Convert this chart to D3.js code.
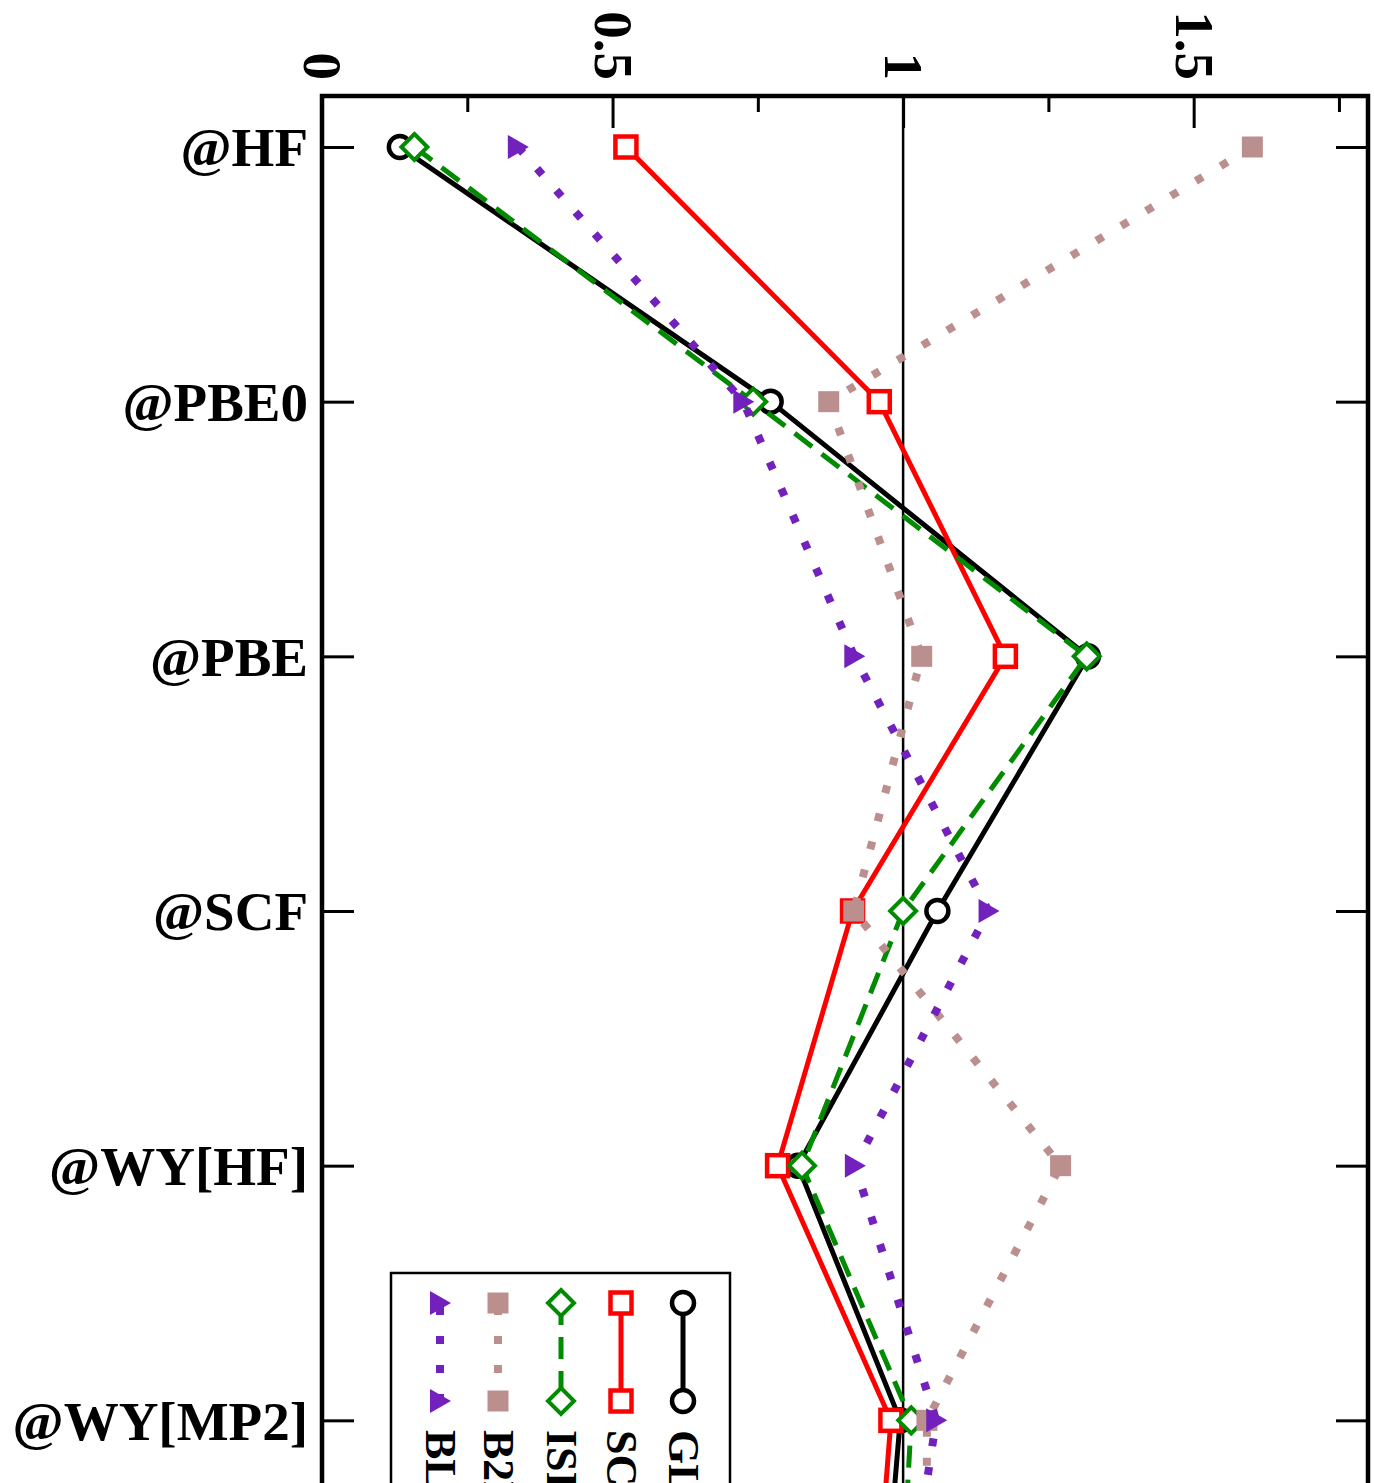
<!DOCTYPE html>
<html lang="en">
<head>
	<meta charset="utf-8">
	<script type="text/javascript" src="https://d3js.org/d3.v7.min.js"></script>
	<style type="text/css">
		body { margin: 0; background: #fff; }
		text { font-family: "Liberation Serif", "Times New Roman", serif; font-weight: bold; }
	</style>
</head>
<body>
<script type="text/javascript">
var categories = ["@HF", "@PBE0", "@PBE", "@SCF", "@WY[HF]", "@WY[MP2]", "@WY[CCSD]"];
var majorTicks = [0, 0.5, 1, 1.5];
var minorTicks = [0.25, 0.75, 1.25, 1.75];
var tickLabels = ["0", "0.5", "1", "1.5"];

var seriesNames = ["GL2", "SCS", "ISI", "B2PLYP", "BLYP"];
var glValues  = [0.134, 0.772, 1.318, 1.059, 0.819, 0.995, 0.958];
var scValues  = [0.523, 0.959, 1.176, 0.913, 0.784, 0.979, 0.945];
var isiValues = [0.159, 0.742, 1.316, 1.000, 0.826, 1.014, 0.990];
var b2Values  = [1.601, 0.872, 1.032, 0.915, 1.271, 1.041, 1.040];
var blValues  = [0.337, 0.725, 0.916, 1.147, 0.917, 1.057, 0.990];

var width = 1374, height = 1483;
var plotLeft = 322, plotRight = 1368, plotTop = 96, plotBottom = 1726;

var svg = d3.select("body")
    .append("svg")
    .attr("width", width)
    .attr("height", height);

var x = d3.scaleLinear().domain([0, 1.8]).range([plotLeft, plotRight]);
var y = d3.scalePoint().domain(categories).range([147, 1675]);

var dotted = "8,21";
var series = [
    {name: seriesNames[0], values: glValues,  color: "#000000", dash: null,    width: 5, symbol: "circle"},
    {name: seriesNames[1], values: scValues,  color: "#ff0000", dash: null,    width: 5, symbol: "square"},
    {name: seriesNames[2], values: isiValues, color: "#008b00", dash: "22,12", width: 5, symbol: "diamond"},
    {name: seriesNames[3], values: b2Values,  color: "#bc8f8f", dash: dotted,  width: 8, symbol: "fsquare"},
    {name: seriesNames[4], values: blValues,  color: "#7221bc", dash: dotted,  width: 8, symbol: "triangle"}
];

// axes: ticks point inward, labels only on top and left
svg.append("g")
    .attr("transform", "translate(0," + plotTop + ")")
    .call(d3.axisTop(x).tickValues(majorTicks).tickSize(-32)
        .tickFormat(function(d, i) { return tickLabels[i]; }))
    .call(function(g) {
        g.select(".domain").remove();
        g.selectAll(".tick line").attr("stroke-width", 3);
        g.selectAll(".tick text")
            .attr("x", null).attr("y", null).attr("dy", null)
            .attr("transform", "translate(0,-16) rotate(90)")
            .attr("text-anchor", "end")
            .attr("dominant-baseline", "central")
            .attr("font-family", null)
            .attr("font-size", 55)
            .attr("fill", "#000");
    });

svg.append("g")
    .attr("transform", "translate(0," + plotTop + ")")
    .call(d3.axisTop(x).tickValues(minorTicks).tickSize(-16).tickFormat(""))
    .call(function(g) {
        g.select(".domain").remove();
        g.selectAll(".tick line").attr("stroke-width", 3);
    });

svg.append("g")
    .attr("transform", "translate(" + plotLeft + ",0)")
    .call(d3.axisLeft(y).tickSize(-32).tickPadding(14))
    .call(function(g) {
        g.select(".domain").remove();
        g.selectAll(".tick line").attr("stroke-width", 3);
        g.selectAll(".tick text")
            .attr("font-family", null)
            .attr("font-size", 55)
            .attr("dy", "0.34em")
            .attr("fill", "#000");
    });

svg.append("g")
    .attr("transform", "translate(" + plotRight + ",0)")
    .call(d3.axisRight(y).tickSize(-32).tickFormat(""))
    .call(function(g) {
        g.select(".domain").remove();
        g.selectAll(".tick line").attr("stroke-width", 3);
    });

// reference line at 1
svg.append("line")
    .attr("x1", x(1)).attr("x2", x(1))
    .attr("y1", plotTop).attr("y2", plotBottom)
    .attr("stroke", "#000")
    .attr("stroke-width", 2.5);

svg.append("rect")
    .attr("x", plotLeft).attr("y", plotTop)
    .attr("width", plotRight - plotLeft).attr("height", plotBottom - plotTop)
    .attr("fill", "none")
    .attr("stroke", "#000")
    .attr("stroke-width", 4.5);

function drawSymbol(g, kind, color) {
    if (kind == "circle") {
        g.append("circle").attr("r", 11)
            .attr("fill", "#fff").attr("stroke", color).attr("stroke-width", 4.5);
    } else if (kind == "square") {
        g.append("rect").attr("x", -10.5).attr("y", -10.5).attr("width", 21).attr("height", 21)
            .attr("fill", "#fff").attr("stroke", color).attr("stroke-width", 4.5);
    } else if (kind == "fsquare") {
        g.append("rect").attr("x", -10.5).attr("y", -10.5).attr("width", 21).attr("height", 21)
            .attr("fill", color);
    } else if (kind == "diamond") {
        g.append("path").attr("d", "M0,-13L13,0L0,13L-13,0Z")
            .attr("fill", "#fff").attr("stroke", color).attr("stroke-width", 4);
    } else if (kind == "triangle") {
        g.append("path").attr("d", "M-10,-12L11,0L-10,12Z")
            .attr("fill", color);
    }
}

var line = d3.line()
    .x(function(d) { return x(d.v); })
    .y(function(d) { return y(d.c); });

series.forEach(function(s) {
    var pts = s.values.map(function(v, i) { return {c: categories[i], v: v}; });
    svg.append("path")
        .datum(pts)
        .attr("d", line)
        .attr("fill", "none")
        .attr("stroke", s.color)
        .attr("stroke-width", s.width)
        .attr("stroke-dasharray", s.dash);

    svg.selectAll(null)
        .data(pts)
        .enter()
        .append("g")
        .attr("transform", function(d) { return "translate(" + x(d.v) + "," + y(d.c) + ")"; })
        .each(function() { drawSymbol(d3.select(this), s.symbol, s.color); });
});

// legend
var legend = svg.append("g");
legend.append("rect")
    .attr("x", 391).attr("y", 1273)
    .attr("width", 339).attr("height", 400)
    .attr("fill", "#fff")
    .attr("stroke", "#000")
    .attr("stroke-width", 2.5);

var legendX = [683, 621, 561, 498, 440];
series.forEach(function(s, i) {
    var lg = legend.append("g").attr("transform", "translate(" + legendX[i] + ",0)");
    lg.append("line")
        .attr("x1", 0).attr("x2", 0)
        .attr("y1", 1303).attr("y2", 1401)
        .attr("stroke", s.color)
        .attr("stroke-width", s.width)
        .attr("stroke-dasharray", s.dash)
        .attr("stroke-dashoffset", s.dash == dotted ? -4 : 0);
    [1303, 1401].forEach(function(yy) {
        drawSymbol(lg.append("g").attr("transform", "translate(0," + yy + ")"), s.symbol, s.color);
    });
    lg.append("text")
        .attr("transform", "translate(0,1430) rotate(90)")
        .attr("dominant-baseline", "central")
        .attr("font-size", 44)
        .text(s.name);
});
</script>
</body>
</html>
